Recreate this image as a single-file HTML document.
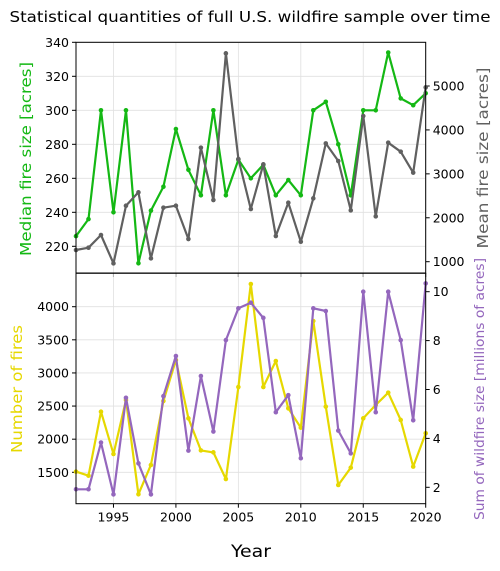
<!DOCTYPE html>
<html><head><meta charset="utf-8"><style>
body{margin:0;background:#fff}
svg{display:block;font-family:"DejaVu Sans","Liberation Sans",sans-serif}
</style></head><body>
<svg id="c" width="500" height="571">
<text x="250" y="22" text-anchor="middle" font-size="15" textLength="481" lengthAdjust="spacingAndGlyphs">Statistical quantities of full U.S. wildfire sample over time</text>
<text x="251" y="557" text-anchor="middle" font-size="17" textLength="40" lengthAdjust="spacingAndGlyphs">Year</text>
<text transform="translate(31,159) rotate(-90)" text-anchor="middle" font-size="15" fill="#14b814" textLength="194" lengthAdjust="spacingAndGlyphs">Median fire size [acres]</text>
<text transform="translate(488,158) rotate(-90)" text-anchor="middle" font-size="15" fill="#606060" textLength="181" lengthAdjust="spacingAndGlyphs">Mean fire size [acres]</text>
<text transform="translate(22,389) rotate(-90)" text-anchor="middle" font-size="15" fill="#e6d800" textLength="128" lengthAdjust="spacingAndGlyphs">Number of fires</text>
<text transform="translate(484,389) rotate(-90)" text-anchor="middle" font-size="13" fill="#9467bd" textLength="262" lengthAdjust="spacingAndGlyphs">Sum of wildfire size [millions of acres]</text>
</svg>
<script>
const years=[1992,1993,1994,1995,1996,1997,1998,1999,2000,2001,2002,2003,2004,2005,2006,2007,2008,2009,2010,2011,2012,2013,2014,2015,2016,2017,2018,2019,2020];
const median=[226,236,300,240,300,210,241,255,289,265,250,300,250,271,260,268,250,259,250,300,305,280,250,300,300,334,307,303,310];
const mean=[1266,1319,1607,962,2275,2579,1076,2230,2275,1516,3596,2404,5744,3338,2199,3216,1584,2343,1455,2442,3694,3292,2169,4317,2032,3710,3505,3027,4970];
const fires=[1510,1449,2415,1777,2592,1168,1611,2577,3195,2315,1831,1801,1398,2787,4342,2787,3180,2466,2174,3784,2491,1309,1570,2315,2516,2702,2290,1586,2089];
const sums=[1.92,1.92,3.83,1.71,5.66,2.98,1.71,5.73,7.37,3.50,6.55,4.28,8.02,9.32,9.55,8.93,5.07,5.77,3.19,9.32,9.21,4.32,3.39,10.0,5.07,10.0,8.02,4.74,10.34];
const xTicks=[1995,2000,2005,2010,2015,2020];
const medTicks=[220,240,260,280,300,320,340];
const meanTicks=[1000,2000,3000,4000,5000];
const fireTicks=[1500,2000,2500,3000,3500,4000];
const sumTicks=[2,4,6,8,10];
const svg=document.getElementById('c');
const NS='http://www.w3.org/2000/svg';
const L=76,R=425.7;
const x=v=>L+(v-1992)/(2020-1992)*(R-L);
function lin(d0,d1,r0,r1){return v=>r0+(v-d0)/(d1-d0)*(r1-r0);}
const T={top:42.3,bot:273};
const B={top:273.3,bot:503.7};
const yMed=lin(204.3,340,T.bot,T.top);
const yMean2=lin(1000,5000,261.7,86);
const yFire=lin(1500,4000,472.3,306.7);
const ySum=lin(2,10,487.3,291.7);
function el(tag,attrs){const e=document.createElementNS(NS,tag);for(const k in attrs)e.setAttribute(k,attrs[k]);svg.appendChild(e);return e;}
function panel(P,name){
  xTicks.forEach(t=>{const g=el('line',{x1:x(t),x2:x(t),y1:P.top,y2:P.bot,stroke:'#e0e0e0','stroke-width':0.8});
  
  const tk=el('line',{x1:x(t),x2:x(t),y1:P.bot,y2:P.bot+4,stroke:'#000'});
  });
}
function yAxis(P,ticks,fy,side,name){
  ticks.forEach(t=>{const y=fy(t);
    if(side==='l'){const g=el('line',{x1:L,x2:R,y1:y,y2:y,stroke:'#e0e0e0','stroke-width':0.8});}
    const xx=side==='l'?L:R, d=side==='l'?-4:4;
    const tk=el('line',{x1:xx,x2:xx+d,y1:y,y2:y,stroke:'#000'});
    
    const tx=el('text',{x:side==='l'?L-7:R+7,y:y+4.5,'font-size':12.5,'text-anchor':side==='l'?'end':'start'});
    tx.textContent=t;
    });
}
function series(vals,fy,color,name){
  const pts=years.map((yr,i)=>x(yr).toFixed(1)+','+fy(vals[i]).toFixed(1)).join(' ');
  const pl=el('polyline',{points:pts,fill:'none',stroke:color,'stroke-width':2.2,'stroke-linejoin':'round'});
  
  years.forEach((yr,i)=>{const c=el('circle',{cx:x(yr),cy:fy(vals[i]),r:2.3,fill:color});
    });
}
panel(T,'top');panel(B,'bottom');
yAxis(T,medTicks,yMed,'l','median-axis');
yAxis(T,meanTicks,yMean2,'r','mean-axis');
yAxis(B,fireTicks,yFire,'l','fires-axis');
yAxis(B,sumTicks,ySum,'r','sum-axis');
xTicks.forEach(t=>{const tx=el('text',{x:x(t),y:B.bot+18,'font-size':12.5,'text-anchor':'middle'});tx.textContent=t;
  });
series(median,yMed,'#14b814','median');
series(mean,yMean2,'#606060','mean');
series(fires,yFire,'#e6d800','fires');
series(sums,ySum,'#9467bd','sum');
[T,B].forEach((P,i)=>{const r=el('rect',{x:L,y:P.top,width:R-L,height:P.bot-P.top,fill:'none',stroke:'#000','stroke-width':1});
  });
</script>
</body></html>
